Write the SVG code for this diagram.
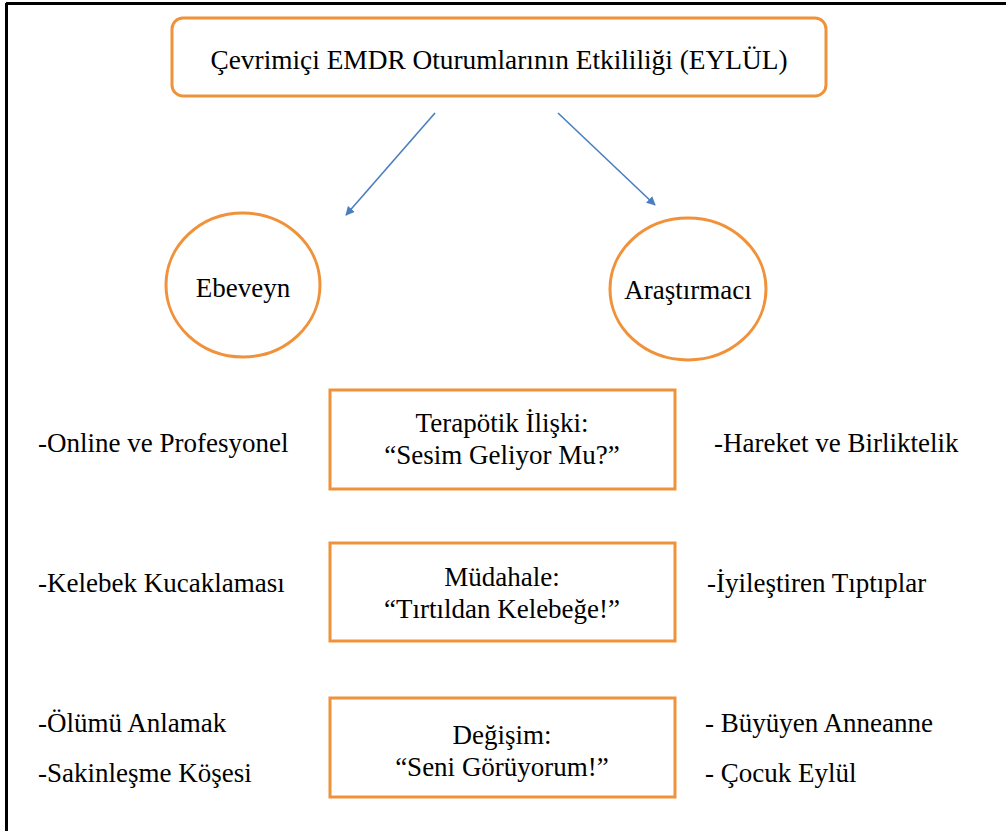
<svg xmlns="http://www.w3.org/2000/svg" width="1006" height="831" viewBox="0 0 1006 831">
<style>
text{font-family:'Liberation Serif','Times New Roman',serif;font-size:27px;fill:#000}
.c{text-anchor:middle}
.o{fill:#fff;stroke:#F0923A;stroke-width:3}
.a{stroke:#4A7EBF;stroke-width:1.6;fill:none;marker-end:url(#ah)}
</style>
<defs>
<marker id="ah" viewBox="0 0 10 10" refX="9" refY="5" markerWidth="9" markerHeight="9" markerUnits="userSpaceOnUse" orient="auto">
<path d="M0,0 L10,5 L0,10 z" fill="#4A7EBF"/>
</marker>
</defs>
<rect width="1006" height="831" fill="#fff"/>
<g id="frame" stroke="#000" stroke-width="3" fill="none">
<line x1="6" y1="3.5" x2="1006" y2="3.5"/>
<line x1="6.5" y1="3" x2="6.5" y2="831"/>
</g>
<g id="connectors">
<line class="a" x1="435" y1="113" x2="346" y2="215"/>
<line class="a" x1="558" y1="113" x2="655" y2="205"/>
</g>
<g id="title">
<rect class="o" x="172" y="18" width="654" height="78" rx="11"/>
<text class="c" x="499" y="69" textLength="577" lengthAdjust="spacingAndGlyphs">Çevrimiçi EMDR Oturumlarının Etkililiği (EYLÜL)</text>
</g>
<g id="ebeveyn">
<ellipse class="o" cx="243" cy="285" rx="77" ry="72"/>
<text class="c" x="243" y="297">Ebeveyn</text>
</g>
<g id="arastirmaci">
<ellipse class="o" cx="688" cy="289" rx="78" ry="71"/>
<text class="c" x="688" y="299">Araştırmacı</text>
</g>
<g id="box1">
<rect class="o" x="330" y="390" width="345" height="99"/>
<text class="c" x="502" y="432">Terapötik İlişki:</text>
<text class="c" x="502" y="464">“Sesim Geliyor Mu?”</text>
</g>
<g id="box2">
<rect class="o" x="330" y="543" width="345" height="98"/>
<text class="c" x="502" y="586">Müdahale:</text>
<text class="c" x="502" y="618">“Tırtıldan Kelebeğe!”</text>
</g>
<g id="box3">
<rect class="o" x="330" y="698" width="345" height="99"/>
<text class="c" x="502" y="744">Değişim:</text>
<text class="c" x="502" y="776">“Seni Görüyorum!”</text>
</g>
<g id="left-labels">
<text x="38" y="452">-Online ve Profesyonel</text>
<text x="38" y="592">-Kelebek Kucaklaması</text>
<text x="38" y="732">-Ölümü Anlamak</text>
<text x="38" y="782">-Sakinleşme Köşesi</text>
</g>
<g id="right-labels">
<text x="714" y="452">-Hareket ve Birliktelik</text>
<text x="707" y="592">-İyileştiren Tıptıplar</text>
<text x="705" y="732">- Büyüyen Anneanne</text>
<text x="705" y="782">- Çocuk Eylül</text>
</g>
</svg>
